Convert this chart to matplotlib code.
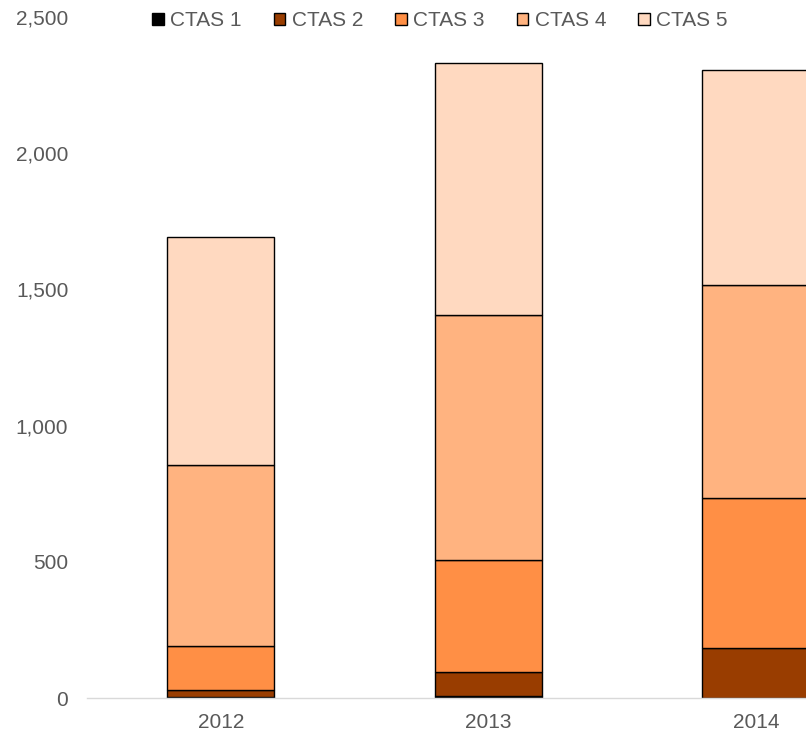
import matplotlib
matplotlib.use('Agg')
import matplotlib.pyplot as plt
from matplotlib.ticker import FuncFormatter

# yearly counts per CTAS level
years = ['2012', '2013', '2014']
ctas1 = [2, 8, 1]
ctas2 = [26, 89, 183]
ctas3 = [163, 410, 550]
ctas4 = [664, 899, 782]
ctas5 = [837, 925, 789]

series = [('CTAS 1', ctas1, '#000000'),
          ('CTAS 2', ctas2, '#993D00'),
          ('CTAS 3', ctas3, '#FF8F45'),
          ('CTAS 4', ctas4, '#FFB380'),
          ('CTAS 5', ctas5, '#FFD9C0')]

plt.rcParams['font.family'] = ['Liberation Sans', 'DejaVu Sans']
fig = plt.figure(figsize=(8.06, 7.34), dpi=100)
ax = fig.add_axes([87/806, 36/734, 1 - 87/806, 681/734])

x = range(len(years))
bottom = [0] * len(years)
for name, vals, col in series:
    ax.bar(x, vals, width=0.40, bottom=bottom, color=col, edgecolor='black',
           linewidth=1.0, label=name)
    bottom = [b + v for b, v in zip(bottom, vals)]

ax.set_ylim(0, 2500)
ax.set_xlim(-0.5, 2.187)
ax.set_yticks(range(0, 2501, 500))
ax.yaxis.set_major_formatter(FuncFormatter(lambda v, p: f'{int(v):,}'))
ax.set_xticks(list(x))
ax.set_xticklabels(years)
ax.tick_params(axis='both', length=0, labelsize=15, colors='#595959')
ax.tick_params(axis='y', pad=13.5)
ax.tick_params(axis='x', pad=11)
for s in ['top', 'right', 'left']:
    ax.spines[s].set_visible(False)
ax.spines['bottom'].set_color('#D9D9D9')
ax.spines['bottom'].set_linewidth(1.0)

leg = fig.legend(loc='upper left', bbox_to_anchor=(141/806, 1.0), ncol=5,
                 frameon=False, fontsize=15, handlelength=0.55, handleheight=0.55,
                 handletextpad=0.3, columnspacing=1.55, borderaxespad=0.15)
for t in leg.get_texts():
    t.set_color('#595959')

fig.savefig('out.png', dpi=100)
